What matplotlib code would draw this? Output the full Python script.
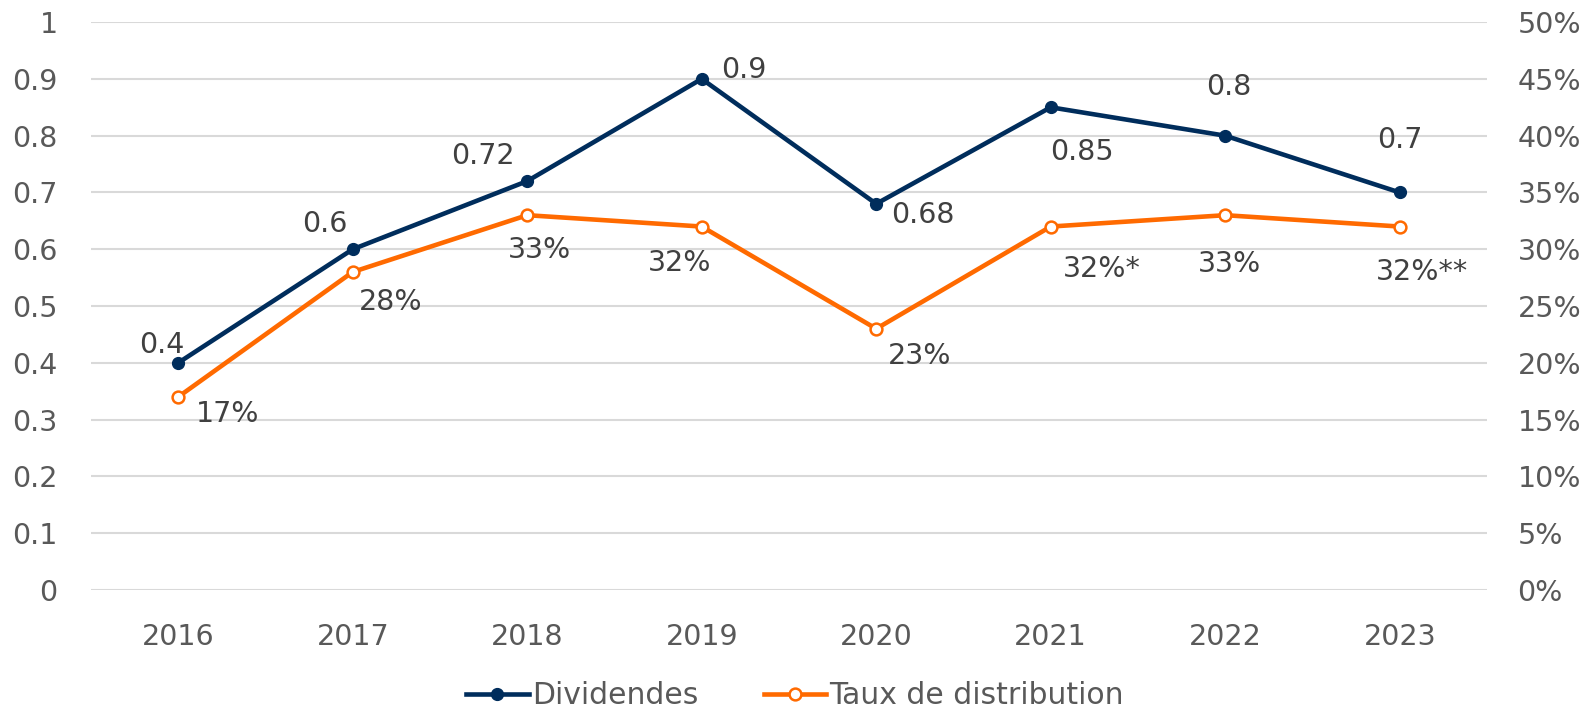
import matplotlib
matplotlib.use("Agg")
import matplotlib.pyplot as plt
from matplotlib.ticker import FuncFormatter

years = ["2016", "2017", "2018", "2019", "2020", "2021", "2022", "2023"]
dividends = [0.4, 0.6, 0.72, 0.9, 0.68, 0.85, 0.8, 0.7]
payout = [17, 28, 33, 32, 23, 32, 33, 32]
div_labels = ["0.4", "0.6", "0.72", "0.9", "0.68", "0.85", "0.8", "0.7"]
payout_labels = ["17%", "28%", "33%", "32%", "23%", "32%*", "33%", "32%**"]

# label offsets in pixels (dx, dy) relative to the point
div_offsets = [(-16, 18), (-28, 25), (-44, 25), (42, 9), (47, -11), (31, -45), (4, 49), (0, 52)]
payout_offsets = [(49, -17), (38, -30), (12, -35), (-22, -36), (43, -27), (51, -42), (4, -49), (22, -45)]

NAVY = "#002D5C"
ORANGE = "#FF6A00"
GRAY = "#595959"
FS = 20.5

plt.rcParams["font.family"] = ["DejaVu Sans"]

fig = plt.figure(figsize=(15.9, 7.13), dpi=100)
ax = fig.add_axes([0.0572, 0.1725, 0.878, 0.7965])
ax2 = ax.twinx()

x = list(range(len(years)))

ax.set_ylim(0, 1)
ax.set_xlim(-0.5, len(years) - 0.5)
ax.set_yticks([i / 10 for i in range(11)])
ax.set_yticklabels(["0", "0.1", "0.2", "0.3", "0.4", "0.5", "0.6", "0.7", "0.8", "0.9", "1"])
ax.grid(axis="y", color="#D9D9D9", linewidth=1.5)
ax.set_axisbelow(True)
ax.set_xticks(x)
ax.set_xticklabels(years)

ax2.set_ylim(0, 50)
ax2.set_yticks(range(0, 51, 5))
ax2.yaxis.set_major_formatter(FuncFormatter(lambda v, p: f"{int(v)}%"))

for a in (ax, ax2):
    for s in a.spines.values():
        s.set_visible(False)
    a.tick_params(length=0, labelsize=FS, colors=GRAY)
ax.tick_params(axis="y", pad=24)
ax.tick_params(axis="x", pad=24)
ax2.tick_params(axis="y", pad=22)

l1, = ax.plot(x, dividends, color=NAVY, linewidth=3.3, marker="o", markersize=8.5,
              markerfacecolor=NAVY, markeredgecolor=NAVY, label="Dividendes", zorder=5)
l2, = ax2.plot(x, payout, color=ORANGE, linewidth=3.3, marker="o", markersize=8.5,
               markerfacecolor="white", markeredgecolor=ORANGE, markeredgewidth=1.8,
               label="Taux de distribution", zorder=5)

for xi, yi, lab, off in zip(x, dividends, div_labels, div_offsets):
    ax.annotate(lab, (xi, yi), xytext=off, textcoords="offset pixels",
                ha="center", va="center", fontsize=FS, color="#404040")
for xi, yi, lab, off in zip(x, payout, payout_labels, payout_offsets):
    ax2.annotate(lab, (xi, yi), xytext=off, textcoords="offset pixels",
                 ha="center", va="center", fontsize=FS, color="#404040")

fig.legend(handles=[l1, l2], loc="center", bbox_to_anchor=(0.5, 0.024), ncol=2,
           frameon=False, fontsize=21.5, labelcolor=GRAY, handlelength=2.1,
           handletextpad=0.1, columnspacing=2.2)

fig.savefig("out.png", dpi=100)
